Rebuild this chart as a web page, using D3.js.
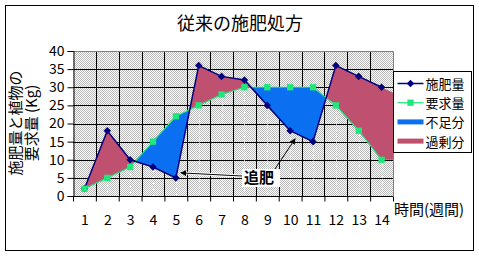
<!DOCTYPE html>
<html>
<head>
<meta charset="utf-8">
<script src="https://cdn.jsdelivr.net/npm/d3@7"></script>
<style>
  body { margin: 0; background: #fff; }
  text { font-family: "Noto Sans CJK JP", "Noto Sans", sans-serif; fill: #000; }
  .num { font-family: "Liberation Sans", "DejaVu Sans", sans-serif; }
</style>
</head>
<body>
<div id="chart"></div>
<script>
// data
var weeks = [1, 2, 3, 4, 5, 6, 7, 8, 9, 10, 11, 12, 13, 14];
var fertilizer = [2, 18, 10, 8, 5, 36, 33, 32, 25, 18, 15, 36, 33, 30];
var requirement = [2, 5, 8, 15, 22, 25, 28, 30, 30, 30, 30, 25, 18, 10];
var yTicks = [0, 5, 10, 15, 20, 25, 30, 35, 40];
var seriesNames = ["施肥量", "要求量", "不足分", "過剰分"];
var chartTitle = "従来の施肥処方";
var yTitle = ["施肥量と植物の", "要求量 (Kg)"];
var xTitle = "時間(週間)";
var noteText = "追肥";
var noteWeeks = [5, 10];

var colors = { fert: "#000080", req: "#1ee87a", short: "#0a6ff0", over: "#c0506f" };

var W = 479, H = 257;
var plot = { left: 73, right: 393, top: 51, bottom: 196 };

var svg = d3.select("#chart").append("svg")
    .attr("width", W)
    .attr("height", H);

var defs = svg.append("defs");
var pat = defs.append("pattern")
    .attr("id", "chk")
    .attr("width", 2).attr("height", 2)
    .attr("patternUnits", "userSpaceOnUse");
pat.append("rect").attr("width", 2).attr("height", 2).attr("fill", "#fff");
pat.append("rect").attr("width", 1).attr("height", 1).attr("fill", "#b8b8b8");
pat.append("rect").attr("x", 1).attr("y", 1).attr("width", 1).attr("height", 1).attr("fill", "#b8b8b8");

defs.append("marker")
    .attr("id", "arrow")
    .attr("viewBox", "0 0 10 10")
    .attr("refX", 9).attr("refY", 5)
    .attr("markerWidth", 6).attr("markerHeight", 6)
    .attr("orient", "auto")
    .append("path")
    .attr("d", "M0,0 L10,5 L0,10 z")
    .attr("fill", "#000");

// outer frame
svg.append("rect")
    .attr("x", 5.5).attr("y", 5.5)
    .attr("width", 468).attr("height", 245)
    .attr("fill", "#fff")
    .attr("stroke", "#000");

var x = d3.scaleLinear().domain([0.5, weeks.length + 0.5]).range([plot.left, plot.right]);
var y = d3.scaleLinear().domain([0, 40]).range([plot.bottom, plot.top]);

// plot background
svg.append("rect")
    .attr("x", plot.left).attr("y", plot.top)
    .attr("width", plot.right - plot.left)
    .attr("height", plot.bottom - plot.top)
    .attr("fill", "url(#chk)");

// grid
var bounds = d3.range(1.5, weeks.length, 1);
svg.append("g").selectAll("line")
    .data(yTicks.slice(1, -1))
    .enter().append("line")
    .attr("x1", plot.left).attr("x2", plot.right)
    .attr("y1", function(d){ return Math.round(y(d)) + 0.5; })
    .attr("y2", function(d){ return Math.round(y(d)) + 0.5; })
    .attr("stroke", "#000");
svg.append("g").selectAll("line")
    .data(bounds)
    .enter().append("line")
    .attr("x1", function(d){ return Math.round(x(d)) + 0.5; })
    .attr("x2", function(d){ return Math.round(x(d)) + 0.5; })
    .attr("y1", plot.top).attr("y2", plot.bottom)
    .attr("stroke", "#000");
// grey top / right border
svg.append("path")
    .attr("d", "M" + plot.left + "," + (plot.top + 0.5) + "H" + (plot.right + 0.5) + "V" + plot.bottom)
    .attr("fill", "none")
    .attr("stroke", "#808080");

// build the difference polygons, inserting crossing points
var pts = [];
for (var i = 0; i < weeks.length; i++) {
    pts.push({ x: weeks[i], f: fertilizer[i], r: requirement[i] });
    if (i < weeks.length - 1) {
        var d0 = fertilizer[i] - requirement[i], d1 = fertilizer[i + 1] - requirement[i + 1];
        if (d0 * d1 < 0) {
            var t = d0 / (d0 - d1);
            var fc = fertilizer[i] + t * (fertilizer[i + 1] - fertilizer[i]);
            pts.push({ x: weeks[i] + t, f: fc, r: fc });
        }
    }
}
// the original fill runs on to the plot edge
var n = weeks.length;
pts.push({
    x: weeks[n - 1] + 0.5,
    f: fertilizer[n - 1] + 0.5 * (fertilizer[n - 1] - fertilizer[n - 2]),
    r: requirement[n - 1]
});

var overArea = d3.area()
    .x(function(d){ return x(d.x); })
    .y0(function(d){ return y(d.r); })
    .y1(function(d){ return y(Math.max(d.f, d.r)); });
var shortArea = d3.area()
    .x(function(d){ return x(d.x); })
    .y0(function(d){ return y(Math.min(d.f, d.r)); })
    .y1(function(d){ return y(d.r); });

svg.append("path").datum(pts).attr("d", shortArea).attr("fill", colors.short);
svg.append("path").datum(pts).attr("d", overArea).attr("fill", colors.over);

// faint white drop lines
svg.append("g").selectAll("line")
    .data(weeks)
    .enter().append("line")
    .attr("x1", function(d){ return Math.round(x(d)) + 0.5; })
    .attr("x2", function(d){ return Math.round(x(d)) + 0.5; })
    .attr("y1", function(d, i){ return y(Math.min(fertilizer[i], requirement[i])) + 4; })
    .attr("y2", y(0))
    .attr("stroke", "#fff")
    .attr("stroke-dasharray", "1,2");

// axes
var yAxis = svg.append("g")
    .attr("class", "num")
    .attr("transform", "translate(" + (plot.left + 0.5) + ",0)")
    .call(d3.axisLeft(y).tickValues(yTicks).tickSize(6).tickPadding(3));
yAxis.select(".domain").attr("stroke", "#000");
yAxis.selectAll("text").attr("font-size", 14).attr("font-family", "Liberation Sans");

var xAxis = svg.append("g")
    .attr("transform", "translate(0," + (plot.bottom + 0.5) + ")")
    .call(d3.axisBottom(x).tickValues(d3.range(0.5, weeks.length + 1, 1)).tickSize(5).tickFormat(""));
xAxis.select(".domain").attr("d", "M" + plot.left + ",0H" + plot.right);

var xLabels = svg.append("g")
    .attr("transform", "translate(0," + (plot.bottom + 0.5) + ")")
    .call(d3.axisBottom(x).tickValues(weeks).tickSize(0).tickPadding(19));
xLabels.select(".domain").remove();
xLabels.selectAll("text").attr("font-size", 14).attr("font-family", "Liberation Sans");

// lines
var fertLine = d3.line()
    .x(function(d, i){ return x(weeks[i]); })
    .y(function(d){ return y(d); });

svg.append("path").datum(requirement)
    .attr("d", fertLine)
    .attr("fill", "none")
    .attr("stroke", colors.req)
    .attr("stroke-width", 1.2);
svg.append("path").datum(fertilizer)
    .attr("d", fertLine)
    .attr("fill", "none")
    .attr("stroke", colors.fert)
    .attr("stroke-width", 1.5);

var diamond = d3.symbol().type(d3.symbolDiamond2).size(36);
var square = d3.symbol().type(d3.symbolSquare).size(40);

svg.append("g").selectAll("path")
    .data(fertilizer)
    .enter().append("path")
    .attr("d", diamond)
    .attr("transform", function(d, i){ return "translate(" + x(weeks[i]) + "," + y(d) + ")"; })
    .attr("fill", colors.fert);
svg.append("g").selectAll("path")
    .data(requirement)
    .enter().append("path")
    .attr("d", square)
    .attr("transform", function(d, i){ return "translate(" + x(weeks[i]) + "," + y(d) + ")"; })
    .attr("fill", colors.req);

// annotation
var noteBox = { x: 242, y: 169, w: 38, h: 18 };
var p5 = { x: x(noteWeeks[0]) + 5, y: y(fertilizer[noteWeeks[0] - 1]) - 5 };
var p10 = { x: x(noteWeeks[1]) + 5, y: y(fertilizer[noteWeeks[1] - 1]) + 8 };

svg.append("line")
    .attr("x1", noteBox.x).attr("y1", noteBox.y + 7)
    .attr("x2", p5.x).attr("y2", p5.y)
    .attr("stroke", "#fff").attr("stroke-width", 3);
svg.append("line")
    .attr("x1", noteBox.x).attr("y1", noteBox.y + 7)
    .attr("x2", p5.x).attr("y2", p5.y)
    .attr("stroke", "#000").attr("marker-end", "url(#arrow)");
svg.append("line")
    .attr("x1", noteBox.x + 33).attr("y1", noteBox.y)
    .attr("x2", p10.x).attr("y2", p10.y)
    .attr("stroke", "#000").attr("marker-end", "url(#arrow)");
svg.append("rect")
    .attr("x", noteBox.x).attr("y", noteBox.y)
    .attr("width", noteBox.w).attr("height", noteBox.h)
    .attr("fill", "#fff");
svg.append("text")
    .attr("x", noteBox.x + 2).attr("y", noteBox.y + 14)
    .attr("font-size", 15)
    .attr("font-weight", "bold")
    .text(noteText);

// titles
svg.append("text")
    .attr("x", 240).attr("y", 30)
    .attr("text-anchor", "middle")
    .attr("font-size", 18)
    .text(chartTitle);

svg.append("g")
    .attr("transform", "translate(21,123) rotate(-90)")
    .selectAll("text")
    .data(yTitle)
    .enter().append("text")
    .attr("x", 0)
    .attr("y", function(d, i){ return i * 16; })
    .attr("text-anchor", "middle")
    .attr("font-size", 15)
    .text(function(d){ return d; });

svg.append("text")
    .attr("x", 394).attr("y", 215)
    .attr("font-size", 15)
    .text(xTitle);

// legend
var lg = svg.append("g").attr("transform", "translate(393.5,71.5)");
lg.append("rect")
    .attr("width", 78).attr("height", 81)
    .attr("fill", "#fff")
    .attr("stroke", "#000");

var rows = lg.selectAll("g.row")
    .data(seriesNames)
    .enter().append("g")
    .attr("class", "row")
    .attr("transform", function(d, i){ return "translate(0," + (12 + i * 19.2) + ")"; });

rows.each(function(d, i){
    var g = d3.select(this);
    if (i < 2) {
        g.append("line")
            .attr("x1", 4).attr("x2", 30)
            .attr("stroke", i == 0 ? colors.fert : colors.req)
            .attr("stroke-width", i == 0 ? 1.5 : 1.2);
        g.append("path")
            .attr("d", i == 0 ? diamond : square)
            .attr("transform", "translate(17,0)")
            .attr("fill", i == 0 ? colors.fert : colors.req);
    } else {
        g.append("rect")
            .attr("x", 4).attr("y", -2.5)
            .attr("width", 26).attr("height", 5)
            .attr("fill", i == 2 ? colors.short : colors.over);
    }
    g.append("text")
        .attr("x", 32).attr("y", 5.5)
        .attr("font-size", 13)
        .text(d);
});
</script>
</body>
</html>
